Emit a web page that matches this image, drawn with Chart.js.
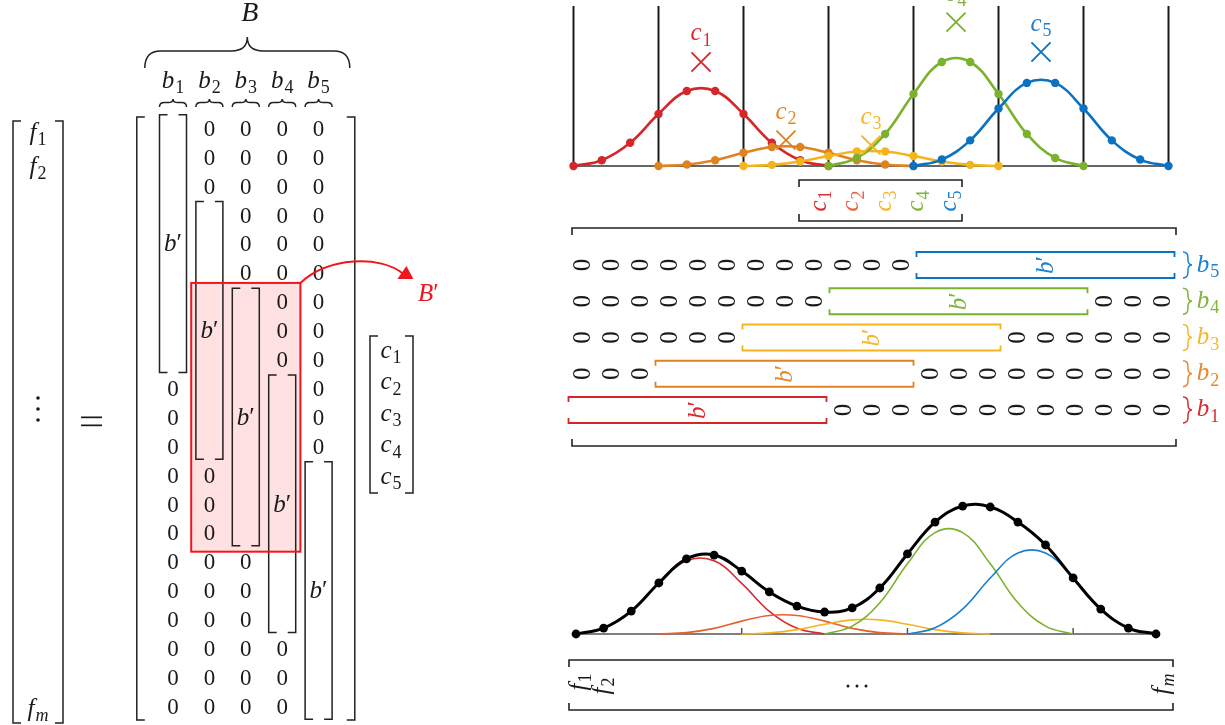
<!DOCTYPE html>
<html><head><meta charset="utf-8">
<script src="https://cdn.jsdelivr.net/npm/chart.js@4.4.1/dist/chart.umd.min.js"></script>
<style>
html,body{margin:0;padding:0;background:#fff;}
#wrap{position:relative;width:1225px;height:725px;background:#fff;overflow:hidden;}
#wrap canvas{position:absolute;left:0;top:0;}
</style></head>
<body><div id="wrap">
<canvas id="cL" width="1225" height="725"></canvas>
<canvas id="cR" width="1225" height="725"></canvas>
<canvas id="cT" width="1225" height="725"></canvas>
<canvas id="cB" width="1225" height="725"></canvas>
</div>
<script>
// ---------------- data ----------------
const basisStart = [0, 3, 6, 9, 12];        // first sample index of each basis b_k
const bLength = 9;                          // length of b'
const matrixRows = 21;                      // rows of B / slots of B^T
const nSamples = 22;                        // samples on the curves
const basis1 = [0, 0.036, 0.144, 0.323, 0.466, 0.466, 0.323, 0.144, 0.036, 0];
const basis2 = [0, 0.009, 0.036, 0.082, 0.118, 0.118, 0.082, 0.036, 0.009, 0];
const basis3 = [0, 0.007, 0.028, 0.062, 0.090, 0.090, 0.062, 0.028, 0.007, 0];
const basis4 = [0, 0.050, 0.199, 0.447, 0.646, 0.646, 0.447, 0.199, 0.050, 0];
const basis5 = [0, 0.040, 0.159, 0.357, 0.516, 0.516, 0.357, 0.159, 0.040, 0];
const coefficients = [0.646, 0.161, 0.130, 0.894, 0.708];
const sumValues = [0, 0.038, 0.146, 0.325, 0.478, 0.503, 0.401, 0.268, 0.178, 0.140, 0.166,
                   0.293, 0.510, 0.713, 0.815, 0.809, 0.713, 0.567, 0.357, 0.159, 0.038, 0];
const gridValues = [0, 3, 6, 9, 12, 15, 18, 21];
const bottomTicks = [6, 12, 18];
const subs = ['1', '2', '3', '4', '5'];
const highlightCols = [1, 3];
const highlightRows = [6, 14];
const basisSets = [basis1, basis2, basis3, basis4, basis5];

// ---------------- styles ----------------
const FONT = '"Liberation Serif","DejaVu Serif",serif';
const INK = '#1a1a1a';
const seriesColors = ['#D5262A', '#E0821F', '#F4B41C', '#7AB12D', '#0A72C1'];
const componentColors = ['#D62B2E', '#E8602C', '#F5B41E', '#7BB12F', '#1A7ECC'];
const rowLabelColors = ['#DB2A33', '#E38A2C', '#F6B72A', '#80B43A', '#1C80CE'];
const cVecColors = ['#DD2E36', '#E8643E', '#F6B52C', '#82B53A', '#1E80D0'];

// ---------------- drawing helpers ----------------
function drawMath(ctx, parts, cx, cy, size, color, rot) {
  ctx.save();
  ctx.translate(cx, cy);
  if (rot) ctx.rotate(rot);
  ctx.fillStyle = color;
  ctx.textBaseline = 'alphabetic';
  ctx.textAlign = 'left';
  const subSize = Math.round(size * 0.7);
  const fonts = {i: `italic ${size}px ${FONT}`, r: `${size}px ${FONT}`,
                 s: `${subSize}px ${FONT}`, si: `italic ${subSize}px ${FONT}`, p: `${size}px ${FONT}`};
  const ws = []; let w = 0;
  for (const [t, st] of parts) {
    ctx.font = fonts[st];
    const m = ctx.measureText(t).width + (st === 's' || st === 'si' ? 1 : 0);
    ws.push(m); w += m;
  }
  let x = -w / 2; const base = size * 0.3;
  parts.forEach(([t, st], i) => {
    ctx.font = fonts[st];
    const isSub = st === 's' || st === 'si';
    ctx.fillText(t, x + (isSub ? 1 : 0), base + (isSub ? size * 0.22 : 0));
    x += ws[i];
  });
  ctx.restore();
}
function bracketV(ctx, x, y1, y2, serif, dir) {
  ctx.beginPath();
  ctx.moveTo(x + dir * serif, y1); ctx.lineTo(x, y1); ctx.lineTo(x, y2); ctx.lineTo(x + dir * serif, y2);
  ctx.stroke();
}
function bracketH(ctx, x1, x2, y, serif, dir) {
  ctx.beginPath();
  ctx.moveTo(x1, y + dir * serif); ctx.lineTo(x1, y); ctx.lineTo(x2, y); ctx.lineTo(x2, y + dir * serif);
  ctx.stroke();
}
function brace(ctx, ax, ay, bx, by, h) {
  const L = Math.hypot(bx - ax, by - ay);
  const r = Math.min(L / 4.5, Math.abs(h) * 0.6, 16);
  const m = h * 0.55;
  ctx.save();
  ctx.translate(ax, ay);
  ctx.rotate(Math.atan2(by - ay, bx - ax));
  ctx.beginPath();
  ctx.moveTo(0, 0);
  ctx.quadraticCurveTo(0, m, r, m);
  ctx.lineTo(L / 2 - r, m);
  ctx.quadraticCurveTo(L / 2, m, L / 2, h);
  ctx.quadraticCurveTo(L / 2, m, L / 2 + r, m);
  ctx.lineTo(L - r, m);
  ctx.quadraticCurveTo(L, m, L, 0);
  ctx.stroke();
  ctx.restore();
}
function zeroText(ctx, x, y, size, rot) {
  ctx.save();
  ctx.translate(x, y);
  if (rot) ctx.rotate(rot);
  ctx.font = `${size}px ${FONT}`;
  ctx.textAlign = 'center';
  ctx.textBaseline = 'alphabetic';
  ctx.fillStyle = INK;
  ctx.fillText('0', 0, size * 0.33);
  ctx.restore();
}
const bPrime = [['b', 'i'], ['\u2032', 'p']];

function baseOptions(pad, xr, yr, reverseY) {
  return {
    responsive: false, animation: false, devicePixelRatio: 1, events: [],
    layout: {padding: pad, autoPadding: false},
    plugins: {legend: {display: false}, tooltip: {enabled: false}},
    scales: {
      x: {type: 'linear', display: false, min: xr[0], max: xr[1]},
      y: {type: 'linear', display: false, min: yr[0], max: yr[1], reverse: !!reverseY}
    }
  };
}

// ---------------- left: f = B c ----------------
const leftZeros = [];
for (let c = 0; c < basisStart.length; c++)
  for (let r = 0; r < matrixRows; r++)
    if (r < basisStart[c] || r >= basisStart[c] + bLength) leftZeros.push({x: c, y: r});

const leftPlugin = {
  id: 'leftMatrix',
  beforeDatasetsDraw(chart) {
    const ctx = chart.ctx, X = v => chart.scales.x.getPixelForValue(v), Y = v => chart.scales.y.getPixelForValue(v);
    ctx.save();
    ctx.fillStyle = 'rgba(255,40,50,0.14)';
    const x1 = X(highlightCols[0] - 0.5), x2 = X(highlightCols[1] + 0.5);
    const y1 = Y(highlightRows[0] - 0.65), y2 = Y(highlightRows[1] + 0.65);
    ctx.fillRect(x1, y1, x2 - x1, y2 - y1);
    ctx.restore();
  },
  afterDatasetsDraw(chart) {
    const ctx = chart.ctx, X = v => chart.scales.x.getPixelForValue(v), Y = v => chart.scales.y.getPixelForValue(v);
    const meta = chart.getDatasetMeta(0);
    meta.data.forEach(el => zeroText(ctx, el.x, el.y, 23));
    ctx.save();
    ctx.setTransform(1, 0, 0, 1, 0, 0);
    ctx.strokeStyle = '#222'; ctx.lineWidth = 1.5; ctx.lineCap = 'butt';
    // equals sign (two horizontal bars)
    ctx.fillStyle = INK;
    ctx.fillRect(81, 416.5, 21, 1.7);
    ctx.fillRect(81, 424.5, 21, 1.7);
    // b' column brackets
    basisStart.forEach((s, c) => {
      const top = Y(s - 0.5) + 1, bot = Y(s + bLength - 0.5) - 1.5;
      bracketV(ctx, X(c) - 13.5, top, bot, 8, 1);
      bracketV(ctx, X(c) + 13.5, top, bot, 8, -1);
      drawMath(ctx, bPrime, X(c), Y(s + 4), 25, INK);
    });
    // big matrix brackets
    const mL = X(-0.5) - 18, mR = X(basisStart.length - 0.5) + 18, mT = 117, mB = 720;
    bracketV(ctx, mL, mT, mB, 8, 1);
    bracketV(ctx, mR, mT, mB, 8, -1);
    // column headers and braces
    basisStart.forEach((s, c) => {
      drawMath(ctx, [['b', 'i'], [subs[c], 's']], X(c), 80, 25, INK);
      brace(ctx, X(c) - 13.5, 107, X(c) + 13.5, 107, -8);
    });
    brace(ctx, mL + 8, 68, mR - 5, 68, -31);
    drawMath(ctx, [['B', 'i']], (mL + mR) / 2 + 4, 13, 28, INK);
    // f vector
    bracketV(ctx, 13, 121, 723, 8, 1);
    bracketV(ctx, 63, 121, 723, 8, -1);
    drawMath(ctx, [['f', 'i'], ['1', 's']], 38, 132, 25, INK);
    drawMath(ctx, [['f', 'i'], ['2', 's']], 38, 166, 25, INK);
    drawMath(ctx, [['f', 'i'], ['m', 'si']], 38, 708, 25, INK);
    ctx.fillStyle = INK;
    [398, 409, 420].forEach(y => { ctx.beginPath(); ctx.arc(38, y, 1.8, 0, Math.PI * 2); ctx.fill(); });
    // c vector
    bracketV(ctx, 370, 336, 493, 8, 1);
    bracketV(ctx, 413, 336, 493, 8, -1);
    subs.forEach((s, k) => drawMath(ctx, [['c', 'i'], [s, 's']], 391, 350 + k * 31.5, 25, INK));
    // highlight border
    const x1 = X(highlightCols[0] - 0.5), x2 = X(highlightCols[1] + 0.5);
    const y1 = Y(highlightRows[0] - 0.65), y2 = Y(highlightRows[1] + 0.65);
    ctx.strokeStyle = '#F2161C'; ctx.lineWidth = 2;
    ctx.strokeRect(x1, y1, x2 - x1, y2 - y1);
    // arrow
    ctx.beginPath();
    ctx.moveTo(x2, y1);
    ctx.bezierCurveTo(x2 + 28, y1 - 26, x2 + 80, y1 - 28, x2 + 103, y1 - 9);
    ctx.stroke();
    ctx.fillStyle = '#F2161C';
    ctx.beginPath();
    ctx.moveTo(x2 + 113, y1 - 4);
    ctx.lineTo(x2 + 97, y1 - 4);
    ctx.lineTo(x2 + 106, y1 - 17);
    ctx.closePath(); ctx.fill();
    drawMath(ctx, [['B', 'i'], ['\u2032', 'p']], x2 + 128, y1 + 11, 25, '#F2161C');
    ctx.restore();
  }
};
new Chart(document.getElementById('cL'), {
  type: 'scatter',
  data: {datasets: [{data: leftZeros, pointRadius: 0, showLine: false}]},
  options: baseOptions({left: 154.8, right: 888.2, top: 113.85, bottom: 4.25}, [-0.5, 4.5], [-0.5, 20.5], true),
  plugins: [leftPlugin]
});

// ---------------- right: B transposed ----------------
const rightZeros = [];
for (let k = 0; k < basisStart.length; k++)
  for (let s = 0; s < matrixRows; s++)
    if (s < basisStart[k] || s >= basisStart[k] + bLength) rightZeros.push({x: s, y: k});

const rightPlugin = {
  id: 'rightMatrix',
  afterDatasetsDraw(chart) {
    const ctx = chart.ctx, X = v => chart.scales.x.getPixelForValue(v), Y = v => chart.scales.y.getPixelForValue(v);
    chart.getDatasetMeta(0).data.forEach(el => zeroText(ctx, el.x, el.y, 25, -Math.PI / 2));
    ctx.save();
    basisStart.forEach((s, k) => {
      const x1 = X(s - 0.5) + 1, x2 = X(s + bLength - 0.5) - 2, yc = Y(k);
      ctx.strokeStyle = seriesColors[k]; ctx.lineWidth = 1.8;
      bracketH(ctx, x1, x2, yc - 13, 5, 1);
      bracketH(ctx, x1, x2, yc + 13, 5, -1);
      drawMath(ctx, bPrime, (x1 + x2) / 2, yc, 25, rowLabelColors[k], -Math.PI / 2);
      ctx.strokeStyle = rowLabelColors[k]; ctx.lineWidth = 1.5;
      brace(ctx, 1183, yc - 13, 1183, yc + 13, -9);
      drawMath(ctx, [['b', 'i'], [subs[k], 's']], 1208, yc - 1, 25, rowLabelColors[k]);
    });
    ctx.strokeStyle = '#222'; ctx.lineWidth = 1.6;
    bracketH(ctx, 572, 1176, 228, 7, 1);
    bracketH(ctx, 572, 1176, 446, 7, -1);
    // rotated coefficient vector
    bracketH(ctx, 799, 962, 180, 7, 1);
    bracketH(ctx, 799, 962, 221, 7, -1);
    subs.forEach((s, k) => drawMath(ctx, [['c', 'i'], [s, 's']], 818 + k * 32.5, 201, 25, cVecColors[k], -Math.PI / 2));
    ctx.restore();
  }
};
new Chart(document.getElementById('cR'), {
  type: 'scatter',
  data: {datasets: [{data: rightZeros, pointRadius: 0, showLine: false}]},
  options: baseOptions({left: 567.5, right: 48.5, top: 246.9, bottom: 296.9}, [-0.5, 20.5], [-0.5, 4.5], false),
  plugins: [rightPlugin]
});

// ---------------- top: basis functions ----------------
const topDatasets = basisSets.map((vals, k) => ({
  data: vals.map((v, i) => ({x: basisStart[k] + i, y: v})),
  showLine: true, tension: 0.4, borderColor: seriesColors[k], borderWidth: 2.6,
  pointRadius: 4.2, pointBackgroundColor: seriesColors[k], pointBorderColor: seriesColors[k], pointBorderWidth: 0,
  order: 5 - k, clip: false
}));
topDatasets.push({
  data: coefficients.map((c, k) => ({x: basisStart[k] + bLength / 2, y: c})),
  showLine: false, pointStyle: 'crossRot', pointRadius: 13.5, pointBorderWidth: 1.8,
  pointBorderColor: seriesColors, pointBackgroundColor: 'rgba(0,0,0,0)', order: 0, clip: false
});
const topPlugin = {
  id: 'topFrame',
  beforeDatasetsDraw(chart) {
    const ctx = chart.ctx, xs = chart.scales.x, ys = chart.scales.y;
    ctx.save();
    ctx.strokeStyle = '#1a1a1a'; ctx.lineWidth = 2;
    gridValues.forEach(v => {
      const x = xs.getPixelForValue(v);
      ctx.beginPath(); ctx.moveTo(x, chart.chartArea.top + 1); ctx.lineTo(x, ys.getPixelForValue(0)); ctx.stroke();
    });
    ctx.lineWidth = 1.5; ctx.strokeStyle = '#333';
    ctx.beginPath();
    ctx.moveTo(xs.getPixelForValue(0), ys.getPixelForValue(0));
    ctx.lineTo(xs.getPixelForValue(nSamples - 1), ys.getPixelForValue(0));
    ctx.stroke();
    ctx.restore();
  },
  afterDatasetsDraw(chart) {
    const ctx = chart.ctx;
    chart.getDatasetMeta(basisSets.length).data.forEach((el, k) => {
      drawMath(ctx, [['c', 'i'], [subs[k], 's']], el.x, el.y - 29, 25, rowLabelColors[k]);
    });
  }
};
new Chart(document.getElementById('cT'), {
  type: 'scatter',
  data: {datasets: topDatasets},
  options: baseOptions({left: 573.5, right: 56.5, top: 5, bottom: 559}, [0, nSamples - 1], [0, 1], false),
  plugins: [topPlugin]
});

// ---------------- bottom: f = sum of b_k c_k ----------------
const bottomDatasets = [{
  data: sumValues.map((v, i) => ({x: i, y: v})),
  showLine: true, tension: 0.4, borderColor: '#000', borderWidth: 3,
  pointRadius: 4.4, pointBackgroundColor: '#000', pointBorderWidth: 0, order: 0, clip: false
}];
basisSets.forEach((vals, k) => bottomDatasets.push({
  data: vals.map((v, i) => ({x: basisStart[k] + i, y: v})),
  showLine: true, tension: 0.4, borderColor: componentColors[k], borderWidth: 1.6,
  pointRadius: 0, order: 6 - k, clip: false
}));
const bottomPlugin = {
  id: 'bottomFrame',
  beforeDatasetsDraw(chart) {
    const ctx = chart.ctx, xs = chart.scales.x, ys = chart.scales.y;
    const y0 = ys.getPixelForValue(0);
    ctx.save();
    ctx.strokeStyle = '#555'; ctx.lineWidth = 1.5;
    ctx.beginPath(); ctx.moveTo(xs.getPixelForValue(0), y0); ctx.lineTo(xs.getPixelForValue(nSamples - 1), y0); ctx.stroke();
    bottomTicks.forEach(v => {
      const x = xs.getPixelForValue(v);
      ctx.beginPath(); ctx.moveTo(x, y0); ctx.lineTo(x, y0 - 6); ctx.stroke();
    });
    ctx.restore();
  },
  afterDraw(chart) {
    const ctx = chart.ctx;
    ctx.save();
    ctx.strokeStyle = '#222'; ctx.lineWidth = 1.6;
    bracketH(ctx, 569, 1173, 660, 7, 1);
    bracketH(ctx, 569, 1173, 710, 7, -1);
    drawMath(ctx, [['f', 'i'], ['1', 's']], 578, 682, 25, INK, -Math.PI / 2);
    drawMath(ctx, [['f', 'i'], ['2', 's']], 601, 686, 25, INK, -Math.PI / 2);
    drawMath(ctx, [['f', 'i'], ['m', 'si']], 1161, 684, 25, INK, -Math.PI / 2);
    ctx.fillStyle = INK;
    [848, 857, 866].forEach(x => { ctx.beginPath(); ctx.arc(x, 686, 1.5, 0, Math.PI * 2); ctx.fill(); });
    ctx.restore();
  }
};
new Chart(document.getElementById('cB'), {
  type: 'scatter',
  data: {datasets: bottomDatasets},
  options: baseOptions({left: 576, right: 69, top: 477, bottom: 91}, [0, nSamples - 1], [0, 1], false),
  plugins: [bottomPlugin]
});
</script>
</body></html>
